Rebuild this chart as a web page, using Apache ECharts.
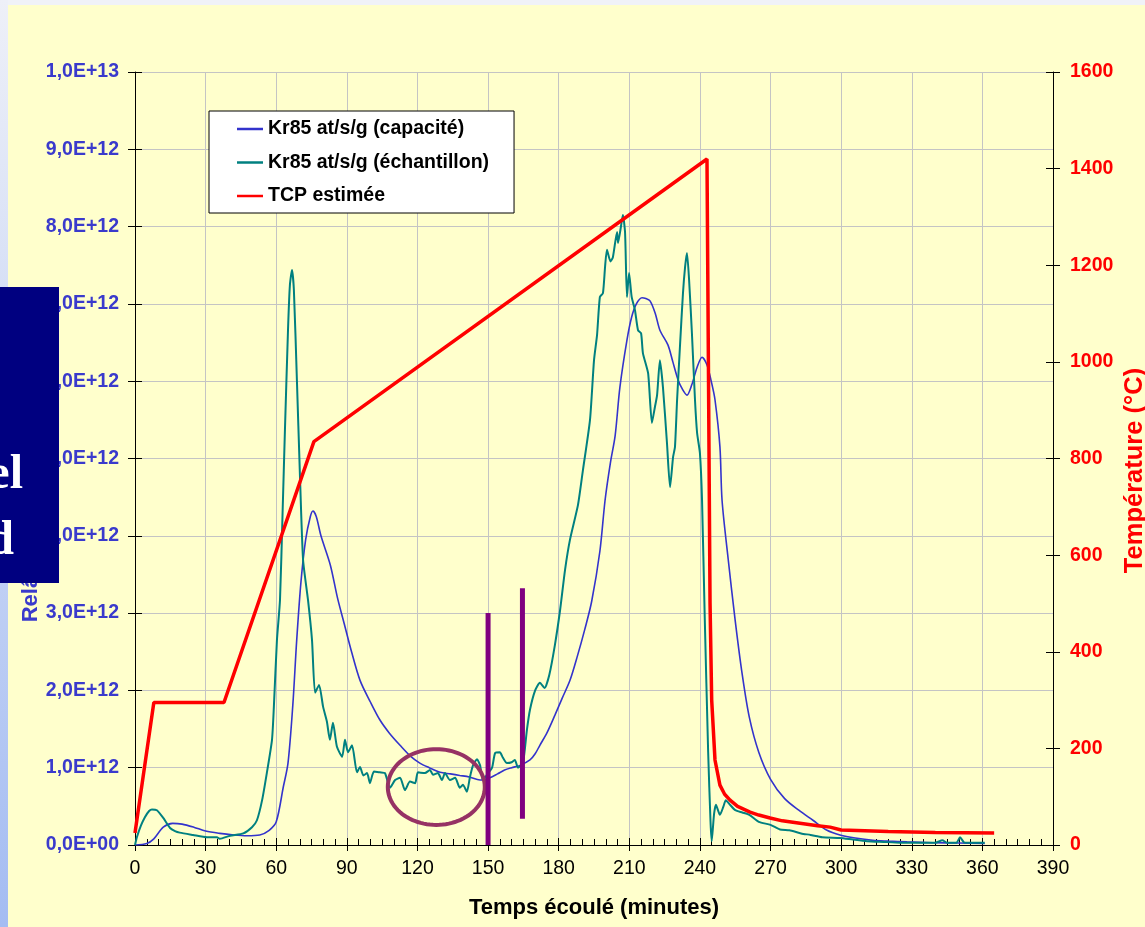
<!DOCTYPE html>
<html><head><meta charset="utf-8">
<script src="https://cdn.jsdelivr.net/npm/echarts@6/dist/echarts.min.js"></script>
<style>html,body{margin:0;padding:0;background:#f0f2f8;}#c{width:1145px;height:927px;}</style>
</head><body><div id="c"></div><script>
// ---- data (time in minutes; Kr85 in units of 1e12 at/s/g; temperature in °C) ----
const xTicks = [0,30,60,90,120,150,180,210,240,270,300,330,360,390];
const capT = [0,5,8,12,16,20,25,30,36,42,47.5,53,57,60,63,65,67,68.7,70.5,72.5,74.5,75.6,77,79,83,86,89,92,95.6,100,104,108,112.6,117,121,125,129.6,134,138,142,146.6,150.8,154,157,160,163.6,167.8,170,172,175,178.4,181.5,184.8,188,191,194,197.5,199.7,202,204,206,209,211,213,215.4,217,218.8,221,223,226.4,228.5,230.7,232.5,234.5,236.5,238.8,240.9,243,244.8,246.4,248.5,249.4,252,255,258,261,265,270,276,282,288,294,299.5,306,313.5,320,328,339,350,361];
const capV = [0,0.02,0.08,0.23,0.28,0.27,0.23,0.18,0.15,0.13,0.12,0.13,0.19,0.3,0.75,1.06,1.79,2.65,3.4,3.95,4.25,4.32,4.25,4.0,3.62,3.2,2.85,2.5,2.13,1.85,1.62,1.45,1.29,1.15,1.06,1.0,0.94,0.92,0.9,0.88,0.84,0.87,0.92,0.97,1.0,1.03,1.1,1.18,1.29,1.45,1.68,1.9,2.13,2.45,2.78,3.15,3.8,4.46,4.95,5.3,5.92,6.53,6.83,7.0,7.08,7.07,7.04,6.88,6.66,6.47,6.25,6.02,5.9,5.82,5.95,6.18,6.31,6.21,6.0,5.76,5.15,4.46,3.7,2.9,2.2,1.65,1.2,0.85,0.6,0.45,0.32,0.19,0.13,0.09,0.06,0.05,0.04,0.03,0.025,0.02];
const echT = [0,0.8,2.5,4.2,6,7.2,9.3,12,14.9,17,19,24.6,30.6,34.8,36,40.4,46,49.7,51.8,54,56,58.2,59,60.3,61.6,62.7,63.7,65,65.8,66.7,67.5,68.8,70,71.4,73.5,75.2,76.5,78.2,79.9,81.5,82.8,84.1,85.8,88,89.2,90.5,92.2,94.3,95.6,97,98.6,99.8,101.5,104,106.2,108.3,110.5,112.6,114.7,116.8,119,120.2,123.2,125.3,126.6,128.7,130.4,131.7,133.8,136,138,139.3,141,142.3,143.6,145.3,146.6,147.8,150,151.7,153,155,156.3,158,160,161.4,162.7,164.8,166.5,167.8,170,172,174,176,178.4,180.6,182.7,184.8,188.2,190.3,193.3,195,196.3,197.5,198.8,199.7,200.5,202,203,204.8,205.2,206.9,207.3,208.2,209,209.9,211,212.4,213.7,215,215.8,218,219.6,220.9,221.8,223,224.3,226,227.3,228.6,229.4,230.3,231.5,232.8,233.7,234.5,235.4,236.6,237.9,238.8,240,240.9,242,243.5,244.5,245,246,246.8,248.5,250,251,252.8,255,258,261,265,270,274,278,283,287,292,299.5,305,311,318,325,335,340,343,345,349,350.5,352,353,361];
const echV = [0,0.1,0.25,0.36,0.44,0.46,0.45,0.35,0.22,0.18,0.16,0.13,0.1,0.1,0.08,0.12,0.15,0.23,0.32,0.58,0.93,1.36,1.79,2.65,3.17,4.3,5.37,6.66,7.24,7.44,7.18,6.0,4.85,3.69,3.17,2.65,1.97,2.07,1.79,1.6,1.36,1.58,1.27,1.14,1.36,1.2,1.29,0.94,1.01,0.9,0.93,0.8,0.95,0.94,0.93,0.74,0.84,0.87,0.71,0.82,0.8,0.94,0.93,0.97,0.91,0.93,0.84,0.93,0.84,0.87,0.74,0.78,0.69,0.88,1.03,1.11,1.03,0.84,0.93,1.0,1.19,1.2,1.13,1.06,1.07,1.1,1.0,1.06,1.49,1.75,2.0,2.1,2.03,2.2,2.59,3.04,3.56,3.95,4.4,4.85,5.5,6.27,6.6,7.09,7.14,7.48,7.7,7.55,7.6,7.93,7.79,8.09,8.15,7.92,7.09,7.4,7.09,6.92,6.66,6.62,6.36,6.1,5.46,5.67,5.82,6.27,5.92,5.2,4.63,5.02,5.15,5.76,6.44,7.14,7.48,7.66,7.31,6.62,5.76,5.33,5.07,4.46,3.0,1.2,0.3,0.05,0.4,0.52,0.39,0.5,0.58,0.52,0.45,0.42,0.39,0.3,0.26,0.2,0.19,0.15,0.13,0.1,0.09,0.07,0.05,0.04,0.03,0.03,0.03,0.06,0.03,0.03,0.1,0.04,0.03,0.03];
const tcpT = [0,8,37.8,76,243,243.6,244.3,245,246.4,248.5,250.5,252.8,256,261.3,265,269.8,275,282.5,290,295.3,300,320,340,365];
const tcpV = [25,295,295,835,1420,1000,500,300,176,124,105,93,80,68,62,56,50,45,40,37,31,28,26,25];
const markA = [[150,0],[150,3.0]];
const markB = [[164.6,0.34],[164.6,3.32]];
const circle = {cx:128, cy:0.75, rx:20.6, ry:0.49};

const E = 1e12;
const toPairs = (t, v, k) => t.map((x, i) => [x, v[i] * k]);
function sci(v){
  if (v === 0) return '0,0E+00';
  const e = Math.floor(Math.log10(v) + 1e-9);
  const m = v / Math.pow(10, e);
  return m.toFixed(1).replace('.', ',') + 'E+' + (e < 10 ? '0' + e : e);
}
const FONT = 'Arial, "Liberation Sans", sans-serif';
const chart = echarts.init(document.getElementById('c'));
const blueLab = {color:'#3a3acc', fontWeight:'bold', fontSize:19.5, fontFamily:FONT};
const redLab = {color:'#ff0000', fontWeight:'bold', fontSize:19.5, fontFamily:FONT};
chart.setOption({
  backgroundColor:'transparent',
  animation:false,
  graphic:[
    {type:'rect', z:-10, silent:true, shape:{x:0,y:0,width:1145,height:927}, style:{fill:'#f0f2f8'}},
    {type:'rect', z:-10, silent:true, shape:{x:0,y:0,width:8,height:927},
      style:{fill:new echarts.graphic.LinearGradient(0,0,0,1,[{offset:0,color:'#eef0f8'},{offset:1,color:'#a4bcf2'}])}},
    {type:'rect', z:-10, silent:true, shape:{x:8,y:5,width:1137,height:922}, style:{fill:'#ffffcc'}},
    {type:'rect', z:100, silent:true, shape:{x:0,y:287,width:59,height:296}, style:{fill:'#000080'}},
    {type:'text', z:101, silent:true, x:23, y:476, style:{text:'el', fill:'#ffffff', font:'bold 48px "Liberation Serif", "Times New Roman", serif', align:'right', verticalAlign:'middle'}},
    {type:'text', z:101, silent:true, x:14, y:542, style:{text:'d', fill:'#ffffff', font:'bold 48px "Liberation Serif", "Times New Roman", serif', align:'right', verticalAlign:'middle'}}
  ],
  grid:{left:135, right:92, top:72, bottom:82, containLabel:false, outerBoundsMode:'none'},
  legend:{
    orient:'vertical', left:209, top:111, icon:'rect',
    data:['Kr85 at/s/g (capacité)','Kr85 at/s/g (échantillon)','TCP estimée'],
    backgroundColor:'#ffffff', borderColor:'#000000', borderWidth:1, borderRadius:0,
    padding:[8,25,7,28], itemGap:13.5, itemWidth:26, itemHeight:2.5,
    textStyle:{color:'#000000', fontWeight:'bold', fontSize:19.5, fontFamily:FONT, lineHeight:19}
  },
  xAxis:[
    {type:'value', min:0, max:390, interval:30, position:'bottom',
     name:'Temps écoulé (minutes)', nameLocation:'middle', nameGap:52, nameMoveOverlap:false,
     nameTextStyle:{color:'#000', fontWeight:'bold', fontSize:22, fontFamily:FONT},
     axisLine:{show:true, onZero:false, lineStyle:{color:'#000', width:1}},
     axisTick:{show:true, inside:true, length:7, lineStyle:{color:'#000'}},
     minorTick:{show:true, splitNumber:6, length:6, lineStyle:{color:'#000'}},
     axisLabel:{color:'#000', fontSize:19.5, margin:14, fontFamily:FONT,
       formatter: v => xTicks.indexOf(v) >= 0 ? String(v) : ''},
     splitLine:{show:true, lineStyle:{color:'#c4c4c4', width:1}}},
    {type:'value', min:0, max:390, interval:30, position:'bottom',
     axisLine:{show:false, onZero:false}, axisTick:{show:true, inside:false, length:6, lineStyle:{color:'#000'}},
     axisLabel:{show:false}, splitLine:{show:false}}
  ],
  yAxis:[
    {type:'value', min:0, max:10*E, interval:E, position:'left',
     name:'Relâchement Kr85 (atomes/s/g)', nameLocation:'middle', nameGap:93, nameRotate:90, nameMoveOverlap:false,
     nameTextStyle:{color:'#3a3acc', fontWeight:'bold', fontSize:22, fontFamily:FONT},
     axisLine:{show:true, onZero:false, lineStyle:{color:'#000'}},
     axisTick:{show:true, inside:false, length:7, lineStyle:{color:'#000'}},
     axisLabel:Object.assign({margin:16, formatter:sci}, blueLab),
     splitLine:{show:true, lineStyle:{color:'#c4c4c4', width:1}}},
    {type:'value', min:0, max:1600, interval:200, position:'right',
     name:'Température (°C)', nameLocation:'middle', nameGap:69, nameRotate:90, nameMoveOverlap:false,
     nameTextStyle:{color:'#ff0000', fontWeight:'bold', fontSize:25.5, fontFamily:FONT, padding:[0,24,0,0]},
     axisLine:{show:true, onZero:false, lineStyle:{color:'#000'}},
     axisTick:{show:true, inside:false, length:7, lineStyle:{color:'#000'}},
     axisLabel:Object.assign({margin:17, formatter: v => String(v)}, redLab),
     splitLine:{show:false}},
    {type:'value', min:0, max:10*E, interval:E, position:'left',
     axisLine:{show:false, onZero:false}, axisTick:{show:true, inside:true, length:7, lineStyle:{color:'#000'}},
     axisLabel:{show:false}, splitLine:{show:false}},
    {type:'value', min:0, max:1600, interval:200, position:'right',
     axisLine:{show:false, onZero:false}, axisTick:{show:true, inside:true, length:7, lineStyle:{color:'#000'}},
     axisLabel:{show:false}, splitLine:{show:false}}
  ],
  series:[
    {name:'Kr85 at/s/g (capacité)', type:'line', xAxisIndex:0, yAxisIndex:0, symbol:'none', smooth:0.3, z:3,
     lineStyle:{color:'#3333cc', width:1.6}, itemStyle:{color:'#3333cc'}, data:toPairs(capT, capV, E)},
    {name:'Kr85 at/s/g (échantillon)', type:'line', xAxisIndex:0, yAxisIndex:0, symbol:'none', smooth:0.2, z:3,
     lineStyle:{color:'#008080', width:2}, itemStyle:{color:'#008080'}, data:toPairs(echT, echV, E)},
    {name:'TCP estimée', type:'line', xAxisIndex:0, yAxisIndex:1, symbol:'none', z:4,
     lineStyle:{color:'#ff0000', width:3.5}, itemStyle:{color:'#ff0000'}, data:toPairs(tcpT, tcpV, 1)},
    {name:'marqueA', type:'line', xAxisIndex:0, yAxisIndex:0, symbol:'none', z:5,
     lineStyle:{color:'#800080', width:5, cap:'butt'}, data:markA.map(p => [p[0], p[1]*E])},
    {name:'marqueB', type:'line', xAxisIndex:0, yAxisIndex:0, symbol:'none', z:5,
     lineStyle:{color:'#800080', width:5, cap:'butt'}, data:markB.map(p => [p[0], p[1]*E])},
    {name:'zone', type:'custom', xAxisIndex:0, yAxisIndex:0, z:5,
     data:[[circle.cx, circle.cy*E, circle.rx, circle.ry*E]],
     renderItem:function(params, api){
       const c = api.coord([api.value(0), api.value(1)]);
       const s = api.size([api.value(2), api.value(3)]);
       const pts = [];
       for (let i = 0; i < 96; i++) { const a = i/96*Math.PI*2; pts.push([c[0] + s[0]*Math.cos(a), c[1] + s[1]*Math.sin(a)]); }
       return {type:'polygon', shape:{points:pts}, style:{fill:'none', stroke:'#963264', lineWidth:4}};
     }}
  ]
});
</script></body></html>
